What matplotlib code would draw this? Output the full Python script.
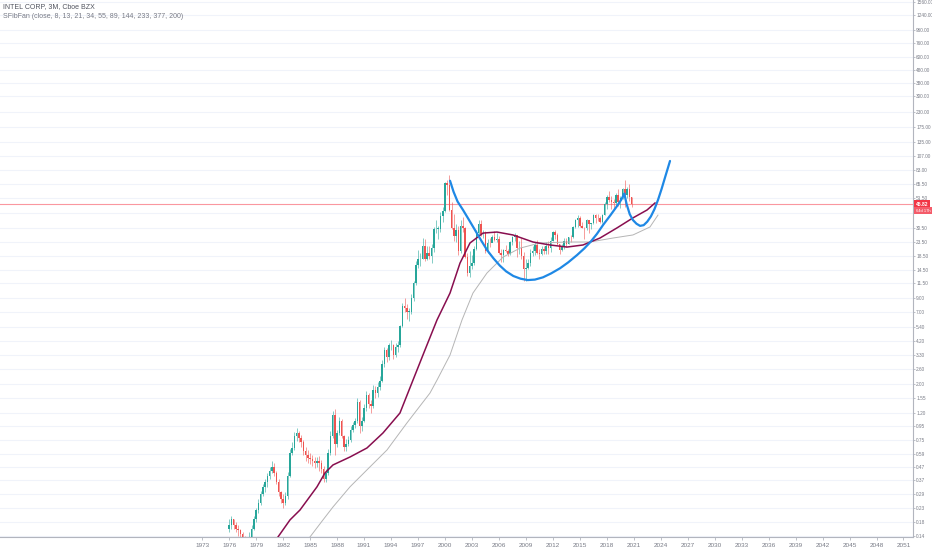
import numpy as np
import matplotlib
matplotlib.use("Agg")
import matplotlib.pyplot as plt
import matplotlib.transforms as mtransforms

# quarterly candles, INTC, 1976 Q1 .. 2020 Q4
first_year = 1976.0
first_open = 0.16
closes = [
    0.17, 0.19, 0.17, 0.16,
    0.155, 0.145, 0.13, 0.125,
    0.12, 0.135, 0.16, 0.19,
    0.22, 0.25, 0.29, 0.33,
    0.36, 0.40, 0.44, 0.47,
    0.42, 0.36, 0.30, 0.27,
    0.25, 0.28, 0.40, 0.60,
    0.65, 0.80, 0.85, 0.78,
    0.72, 0.62, 0.58, 0.55,
    0.54, 0.52, 0.50, 0.52,
    0.50, 0.45, 0.38, 0.42,
    0.60, 0.80, 1.15, 0.70,
    0.85, 1.05, 0.80, 0.66,
    0.70, 0.75, 0.90, 0.98,
    1.05, 1.45, 0.95, 1.05,
    1.30, 1.65, 1.40, 1.35,
    1.80, 1.70, 1.90, 2.10,
    2.80, 3.60, 3.20, 3.90,
    3.90, 3.30, 3.80, 3.90,
    5.50, 7.80, 7.50, 7.00,
    7.00, 9.00, 11.5, 16.0,
    17.5, 17.5, 22.0, 17.5,
    19.5, 18.5, 21.4, 29.5,
    29.7, 29.7, 37.0, 41.0,
    65.9, 64.0, 41.6, 30.1,
    26.3, 29.2, 20.4, 31.4,
    30.4, 18.3, 13.9, 15.6,
    16.3, 20.8, 27.5, 32.2,
    27.2, 27.6, 20.1, 23.4,
    23.2, 26.0, 24.7, 25.0,
    19.5, 19.0, 20.6, 20.3,
    19.1, 23.7, 25.9, 26.7,
    21.2, 21.5, 18.7, 14.7,
    15.0, 16.5, 19.6, 20.4,
    22.3, 19.4, 19.2, 21.0,
    20.2, 22.2, 21.3, 24.3,
    28.1, 26.7, 22.7, 20.6,
    21.8, 24.2, 22.9, 25.9,
    25.8, 30.9, 34.8, 36.3,
    31.3, 30.4, 30.1, 34.5,
    32.4, 32.8, 37.8, 36.3,
    36.1, 33.7, 38.1, 46.2,
    52.1, 49.7, 47.3, 46.9,
    53.7, 47.9, 51.5, 59.9,
    54.1, 59.8, 51.8, 45.82,
]
highs = [
    0.19, 0.20, 0.19, 0.18,
    0.17, 0.16, 0.15, 0.14,
    0.13, 0.15, 0.17, 0.20,
    0.23, 0.27, 0.31, 0.35,
    0.38, 0.42, 0.47, 0.52,
    0.50, 0.44, 0.38, 0.31,
    0.29, 0.30, 0.43, 0.64,
    0.72, 0.86, 0.92, 0.88,
    0.82, 0.75, 0.66, 0.63,
    0.60, 0.58, 0.56, 0.56,
    0.57, 0.53, 0.48, 0.45,
    0.64, 0.88, 1.25, 1.28,
    0.90, 1.12, 1.08, 0.82,
    0.76, 0.80, 0.96, 1.02,
    1.10, 1.55, 1.50, 1.12,
    1.40, 1.75, 1.70, 1.50,
    1.95, 1.92, 2.05, 2.30,
    3.00, 3.80, 3.75, 4.10,
    4.30, 4.00, 4.10, 4.20,
    5.60, 8.20, 9.00, 8.00,
    7.50, 9.60, 12.0, 17.0,
    20.5, 19.5, 25.5, 25.0,
    22.0, 22.0, 23.0, 31.0,
    35.0, 31.5, 40.0, 44.0,
    68.0, 70.0, 75.8, 48.0,
    38.5, 32.5, 31.5, 35.0,
    36.5, 31.0, 19.5, 20.1,
    19.0, 22.0, 29.0, 34.5,
    34.6, 29.0, 28.8, 24.8,
    25.5, 27.0, 28.8, 27.5,
    26.5, 21.0, 21.0, 22.5,
    21.0, 24.0, 26.5, 27.9,
    26.0, 24.0, 25.3, 19.8,
    17.5, 17.5, 21.0, 22.0,
    23.5, 24.4, 21.0, 22.0,
    22.0, 23.5, 24.0, 25.8,
    28.5, 29.3, 27.5, 23.0,
    23.0, 25.5, 25.5, 26.0,
    27.0, 31.5, 35.5, 37.9,
    37.5, 33.5, 31.0, 35.6,
    35.0, 33.0, 38.4, 38.4,
    38.5, 37.5, 38.6, 47.6,
    53.8, 57.6, 53.0, 50.0,
    55.9, 59.6, 52.9, 60.5,
    69.3, 62.0, 65.1, 52.0,
]
lows = [
    0.15, 0.16, 0.16, 0.15,
    0.14, 0.13, 0.12, 0.115,
    0.11, 0.12, 0.13, 0.155,
    0.18, 0.21, 0.24, 0.28,
    0.30, 0.33, 0.38, 0.42,
    0.40, 0.35, 0.28, 0.25,
    0.23, 0.24, 0.27, 0.39,
    0.58, 0.63, 0.74, 0.72,
    0.66, 0.58, 0.52, 0.50,
    0.49, 0.48, 0.46, 0.47,
    0.44, 0.42, 0.36, 0.36,
    0.41, 0.58, 0.78, 0.58,
    0.66, 0.82, 0.78, 0.62,
    0.62, 0.68, 0.72, 0.86,
    0.92, 1.00, 0.85, 0.88,
    1.02, 1.25, 1.30, 1.20,
    1.32, 1.55, 1.60, 1.80,
    2.05, 2.70, 2.90, 3.00,
    3.60, 3.10, 3.20, 3.50,
    3.80, 5.40, 7.00, 6.20,
    6.00, 6.80, 8.50, 11.2,
    15.0, 15.5, 17.5, 17.0,
    17.3, 17.5, 16.5, 20.0,
    27.5, 25.0, 28.0, 33.5,
    40.0, 54.0, 41.0, 29.8,
    24.0, 23.5, 18.9, 19.5,
    28.0, 18.0, 13.1, 12.9,
    14.9, 15.8, 20.5, 27.0,
    26.5, 25.5, 19.6, 19.5,
    21.9, 23.5, 24.0, 23.8,
    19.2, 16.8, 16.8, 19.8,
    18.5, 18.9, 22.5, 24.0,
    18.1, 19.1, 17.6, 12.1,
    12.1, 14.9, 15.5, 18.5,
    19.0, 19.2, 17.6, 18.9,
    19.1, 19.2, 19.2, 20.0,
    24.3, 25.0, 22.4, 19.3,
    20.1, 20.8, 21.8, 22.8,
    23.5, 25.3, 30.3, 31.0,
    30.9, 30.1, 24.9, 29.4,
    27.7, 29.5, 32.3, 33.2,
    34.3, 33.3, 33.2, 38.1,
    42.0, 48.0, 42.5, 42.0,
    43.6, 44.3, 42.9, 50.6,
    43.6, 51.0, 48.7, 43.6,
]

# hand drawn blue curves (year, price)
cup_years = [2000.56, 2000.95, 2001.40, 2002.00, 2002.60, 2003.30, 2004.00, 2004.70,
             2005.40, 2006.10, 2006.80, 2007.60, 2008.40, 2009.20, 2010.00, 2010.90,
             2011.80, 2012.80, 2013.70, 2014.70, 2015.50, 2016.20, 2016.90, 2017.60,
             2018.40, 2019.10, 2019.60, 2019.95]
cup_prices = [69.0, 57.0, 48.0, 41.5, 35.5, 29.5, 24.5, 20.5,
              17.8, 15.7, 14.2, 13.1, 12.5, 12.2, 12.3, 12.8,
              13.7, 15.0, 16.6, 18.9, 21.2, 23.8, 27.3, 32.0,
              37.8, 44.0, 49.5, 55.0]
handle_years = [2019.95, 2020.20, 2020.55, 2020.90, 2021.30, 2021.70, 2022.10, 2022.50,
                2022.90, 2023.30, 2023.70, 2024.10, 2024.50, 2025.03]
handle_prices = [55.0, 46.0, 38.5, 34.8, 32.6, 31.4, 31.8, 33.8,
                 37.0, 42.0, 49.5, 60.0, 74.0, 97.4]

# indicator lines
ma1_years = [1981.42, 1982.76, 1983.87, 1985.76, 1986.65, 1987.54, 1989.43, 1991.32, 1993.10,
             1994.99, 1996.44, 1997.77, 1999.11, 2000.56, 2001.67, 2002.78, 2004.23, 2005.78,
             2007.56, 2009.79, 2011.68, 2013.57, 2015.35, 2017.24, 2019.13, 2020.91, 2022.47,
             2023.36]
ma1_prices = [0.138, 0.186, 0.221, 0.331, 0.422, 0.485, 0.557, 0.652, 0.847,
              1.20, 2.13, 3.60, 6.08, 9.73, 16.4, 23.3, 27.7, 28.2,
              26.8, 23.7, 22.5, 21.7, 22.5, 25.4, 30.3, 36.1, 41.4,
              46.8]
ma2_years = [1984.98, 1986.43, 1987.54, 1989.43, 1991.32, 1993.55, 1995.77, 1998.33, 1999.11,
             2000.56, 2001.89, 2003.11, 2004.67, 2006.45, 2008.34, 2010.57, 2013.57, 2016.13,
             2018.69, 2020.91, 2022.80, 2023.69]
ma2_prices = [0.138, 0.186, 0.233, 0.331, 0.445, 0.630, 1.01, 1.70, 2.13,
              3.30, 6.08, 9.73, 13.8, 18.2, 21.3, 23.3, 23.7, 23.7,
              25.4, 26.8, 30.8, 37.9]

last_price = 45.82
countdown = "64d 17h"

y_ticks = [0.14, 0.18, 0.23, 0.29, 0.37, 0.47, 0.59, 0.75, 0.95, 1.20, 1.55, 2.00, 2.60,
           3.30, 4.20, 5.40, 7.00, 9.00, 11.50, 14.50, 18.50, 23.50, 30.50, 39.50, 51.50,
           65.50, 83.00, 107.00, 135.00, 175.00, 230.00, 300.00, 380.00, 480.00, 600.00,
           760.00, 960.00, 1240.00, 1560.00]
x_ticks = list(range(1973, 2052, 3))

up_col = "#26a69a"
down_col = "#ef5350"
txt_col = "#787b86"
narrow = ["Liberation Sans Narrow", "Liberation Sans", "DejaVu Sans"]

fig = plt.figure(figsize=(9.32, 5.5), dpi=100)
ax = fig.add_axes([0, 13 / 550, 913 / 932, 537 / 550])
ax.set_yscale("log")
ax.set_xlim(1950.5, 2052.06)
ax.set_ylim(0.138, 1615)

# grid
for t in y_ticks:
    ax.axhline(t, color="#f0f3fa", lw=0.8, zorder=0)

# candles
opens = [first_open] + closes[:-1]
xs = first_year + 0.25 * np.arange(len(closes))
for x, o, h, l, c in zip(xs, opens, highs, lows, closes):
    col = up_col if c >= o else down_col
    ax.vlines(x, l, h, color=col, lw=0.5, alpha=0.8, zorder=2)
    ax.bar(x, abs(c - o) if abs(c - o) > 0 else c * 0.01, bottom=min(o, c),
           width=0.17, color=col, lw=0, zorder=3)

ax.axhline(last_price, color="#f7525f", lw=0.8, alpha=0.6, zorder=1)

ax.plot(ma2_years, ma2_prices, color="#b5b5b5", lw=0.7, zorder=4)
ax.plot(ma1_years, ma1_prices, color="#880e4f", lw=1.1, zorder=4)
ax.plot(cup_years, cup_prices, color="#1e88e5", lw=1.6, zorder=5, solid_capstyle="round")
ax.plot(handle_years, handle_prices, color="#1e88e5", lw=1.6, zorder=5, solid_capstyle="round")

# axes look
for s in ["top", "left"]:
    ax.spines[s].set_visible(False)
for s in ["right", "bottom"]:
    ax.spines[s].set_color("#b2b5be")
    ax.spines[s].set_linewidth(0.8)
ax.yaxis.tick_right()
ax.set_yticks(y_ticks)
ax.set_yticklabels(["" if t == 39.5 else "%.2f" % t for t in y_ticks])
ax.yaxis.set_minor_locator(matplotlib.ticker.NullLocator())
ax.set_xticks(x_ticks)
ax.set_xticklabels([str(y) for y in x_ticks])
ax.tick_params(axis="both", colors="#b2b5be", labelcolor=txt_col, labelsize=4.6,
               length=2.5, width=0.6, pad=2)
ax.tick_params(axis="y", labelsize=3.4, length=1.5, pad=0.8)
for lab in ax.get_yticklabels() + ax.get_xticklabels():
    lab.set_family(narrow)

# price label boxes
trans = mtransforms.blended_transform_factory(ax.transAxes, ax.transData)
ax.text(1.003, last_price, "%.2f" % last_price, transform=trans, fontsize=3.6,
        color="white", fontweight="bold", va="center", ha="left", clip_on=False,
        family=narrow, bbox=dict(boxstyle="square,pad=0.3", fc="#f23645", ec="none"))
ax.text(1.003, 41.0, countdown, transform=trans, fontsize=3.0,
        color="white", va="center", ha="left", clip_on=False,
        family=narrow, bbox=dict(boxstyle="square,pad=0.3", fc="#f45b69", ec="none"))

fig.text(3 / 932, 1 - 7 / 550, "INTEL CORP, 3M, Cboe BZX", fontsize=5, color="#50535e",
         va="center", ha="left", family=narrow)
fig.text(3 / 932, 1 - 17 / 550, "SFibFan (close, 8, 13, 21, 34, 55, 89, 144, 233, 377, 200)",
         fontsize=5, color=txt_col, va="center", ha="left", family=narrow)

plt.savefig("out.png", dpi=100)
